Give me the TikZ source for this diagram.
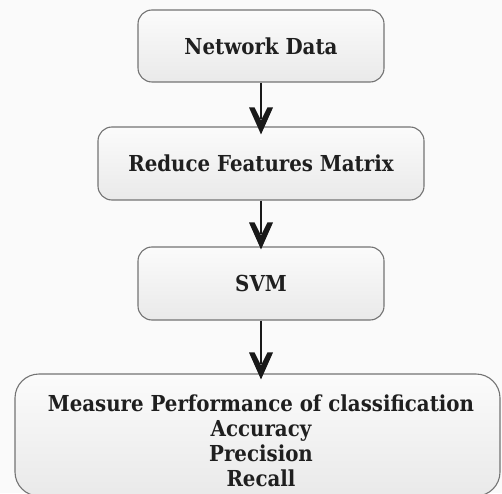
\documentclass[tikz,border=0pt]{standalone}
\usepackage{fontspec}
\newfontfamily\boxfont{DejaVu Serif Condensed}
\usetikzlibrary{calc}
\begin{document}
\begin{tikzpicture}[x=1pt,y=1pt,
  boxtext/.style={font=\boxfont\fontsize{22}{25}\selectfont\bfseries, text=black!88},
  stepbox/.style={boxtext, draw=black!55, line width=1.1pt, rounded corners=14pt,
    top color=gray!3, bottom color=gray!17, inner sep=0pt},
  flowline/.style={line width=2.8pt, draw=black!90},
  chev/.pic={\fill[black!90] (0,0) -- (-12,27) -- (-6.5,27) -- (0,14) -- (6.5,27) -- (12,27) -- cycle;}]
\path[fill=black!2] (0,0) rectangle (502,493);
\useasboundingbox (0,0) rectangle (502,493);
\node[stepbox, minimum width=246pt, minimum height=72pt] (nd) at (261,447) {Network Data};
\node[stepbox, minimum width=326pt, minimum height=73pt] (rf) at (261,329.5) {Reduce Features Matrix};
\node[stepbox, minimum width=246pt, minimum height=73pt] (svm) at (261,209.5) {SVM};
\node[stepbox, rounded corners=24pt, minimum width=485pt, minimum height=122pt] (mp) at (257.5,58) {};
\node[boxtext, align=center, inner sep=0pt] (mpt) at (261,52)
  {Measure Performance of classification\\Accuracy\\Precision\\Recall};
\coordinate (t1) at ($(rf.north)+(0,-8)$);
\coordinate (t2) at ($(svm.north)+(0,-3)$);
\coordinate (t3) at ($(mp.north -| svm.south)+(0,-6)$);
\draw[flowline] (nd.south) -- ($(t1)+(0,15)$);
\draw[flowline] (rf.south) -- ($(t2)+(0,15)$);
\draw[flowline] (svm.south) -- ($(t3)+(0,15)$);
\pic at (t1) {chev};
\pic at (t2) {chev};
\pic at (t3) {chev};
\end{tikzpicture}
\end{document}
